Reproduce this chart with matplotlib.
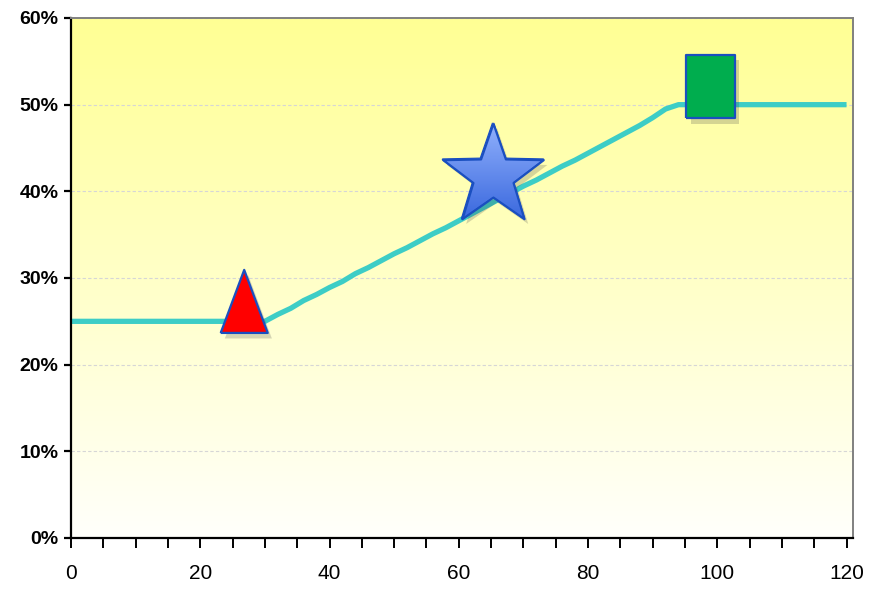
import matplotlib.pyplot as plt
import matplotlib.patheffects as pe
import numpy as np
from matplotlib.markers import MarkerStyle
from matplotlib.patches import PathPatch
from matplotlib.path import Path
from matplotlib.transforms import Affine2D, ScaledTranslation
from matplotlib.ticker import MultipleLocator, PercentFormatter

plt.rcParams['font.family'] = ['Liberation Sans', 'DejaVu Sans']

# Data
line_x = [0, 30, 32, 34, 36, 38, 40, 42, 44, 46, 48, 50, 52, 54, 56, 58, 60, 62, 64,
          66, 68, 70, 72, 74, 76, 78, 80, 82, 84, 86, 88, 90, 92, 94, 120]
line_y = [25, 25, 25.8, 26.5, 27.4, 28.1, 28.9, 29.6, 30.5, 31.2, 32.0, 32.8, 33.5,
          34.3, 35.1, 35.8, 36.6, 37.4, 38.2, 39.0, 39.8, 40.6, 41.3, 42.1, 42.9,
          43.6, 44.4, 45.2, 46.0, 46.8, 47.6, 48.5, 49.5, 50, 50]

tri_x, tri_y = [26.8], [27.3]
star_x, star_y = [65.3], [41.8]
sq_x, sq_y = [99.0], [52.1]

DPI = 100
fig = plt.figure(figsize=(8.71, 5.91), dpi=DPI)
ax = fig.add_axes([71/871, 53/591, (853-71)/871, (538-18)/591])

# fond dégradé
grad = np.linspace(0, 1, 256).reshape(-1, 1)
top = np.array([1.0, 1.0, 0.58])
bot = np.array([1.0, 1.0, 0.985])
img = bot + (top - bot) * grad
ax.imshow(img[:, None, :].repeat(2, axis=1), extent=[0, 1, 0, 1], origin='lower',
          aspect='auto', transform=ax.transAxes, zorder=0)

ax.set_xlim(0, 121)
ax.set_ylim(0, 60)

ax.yaxis.set_major_locator(MultipleLocator(10))
ax.yaxis.set_major_formatter(PercentFormatter(decimals=0))
ax.xaxis.set_major_locator(MultipleLocator(20))
ax.xaxis.set_minor_locator(MultipleLocator(5))
ax.grid(axis='y', color='#d6d6d6', linestyle=(0, (3, 2)), linewidth=0.8, zorder=1)

ax.plot(line_x, line_y, color='#3dcdc6', linewidth=3.8, zorder=3, solid_capstyle='butt')

shadow = [pe.SimplePatchShadow(offset=(3, -4), alpha=0.22, shadow_rgbFace='#444444'), pe.Normal()]

tri = [(-0.746, -1), (0.746, -1), (0, 1), (-0.746, -1)]
ax.plot(tri_x, tri_y, linestyle='none', marker=tri, markersize=45.4,
        markerfacecolor='#ff0000', markeredgecolor='#1a4fc0', markeredgewidth=1.6,
        zorder=5, path_effects=shadow)

# étoile avec dégradé
ang = np.pi / 2 + np.arange(10) * np.pi / 5
rad = np.where(np.arange(10) % 2 == 0, 1.0, 0.40)
star = list(zip(rad * np.cos(ang), rad * np.sin(ang)))
star.append(star[0])
star_ms = 76
ax.plot(star_x, star_y, linestyle='none', marker=star, markersize=star_ms,
        markerfacecolor='#5c84ea', markeredgecolor='#1a4fc0', markeredgewidth=1.6,
        zorder=5, path_effects=shadow)
ms_style = MarkerStyle(star)
clip_tr = (ms_style.get_transform() + Affine2D().scale(star_ms * DPI / 72)
           + ScaledTranslation(star_x[0], star_y[0], ax.transData))
clip_patch = PathPatch(ms_style.get_path(), transform=clip_tr, facecolor='none',
                       edgecolor='none')
ax.add_patch(clip_patch)
sg = np.linspace(0, 1, 128).reshape(-1, 1)
c_top = np.array([0.60, 0.72, 1.0])
c_bot = np.array([0.17, 0.36, 0.85])
simg = c_bot + (c_top - c_bot) * sg
im = ax.imshow(simg[:, None, :].repeat(2, axis=1), origin='lower', aspect='auto',
               extent=[star_x[0] - 9, star_x[0] + 9, star_y[0] - 7, star_y[0] + 7],
               zorder=5.5)
im.set_clip_path(clip_patch)
ax.plot(star_x, star_y, linestyle='none', marker=star, markersize=star_ms,
        markerfacecolor='none', markeredgecolor='#1a4fc0', markeredgewidth=1.6,
        zorder=5.6)

sq = [(-0.766, -1), (0.766, -1), (0.766, 1), (-0.766, 1), (-0.766, -1)]
ax.plot(sq_x, sq_y, linestyle='none', marker=sq, markersize=46,
        markerfacecolor='#00ad4e', markeredgecolor='#1a4fc0', markeredgewidth=1.6,
        zorder=5, path_effects=shadow)

ax.set_xlim(0, 121)
ax.set_ylim(0, 60)

for s in ['left', 'bottom']:
    ax.spines[s].set_color('black')
    ax.spines[s].set_linewidth(1.6)
for s in ['top', 'right']:
    ax.spines[s].set_color('#808080')
    ax.spines[s].set_linewidth(1.4)
for sp in ax.spines.values():
    sp.set_zorder(6)

ax.tick_params(axis='y', which='major', direction='out', length=5, width=1.6,
               labelsize=14, pad=4)
ax.tick_params(axis='x', which='both', direction='out', length=7, width=1.4,
               labelsize=15, pad=12)
for lbl in ax.get_yticklabels():
    lbl.set_fontweight('bold')

plt.savefig('out.png', dpi=DPI)
